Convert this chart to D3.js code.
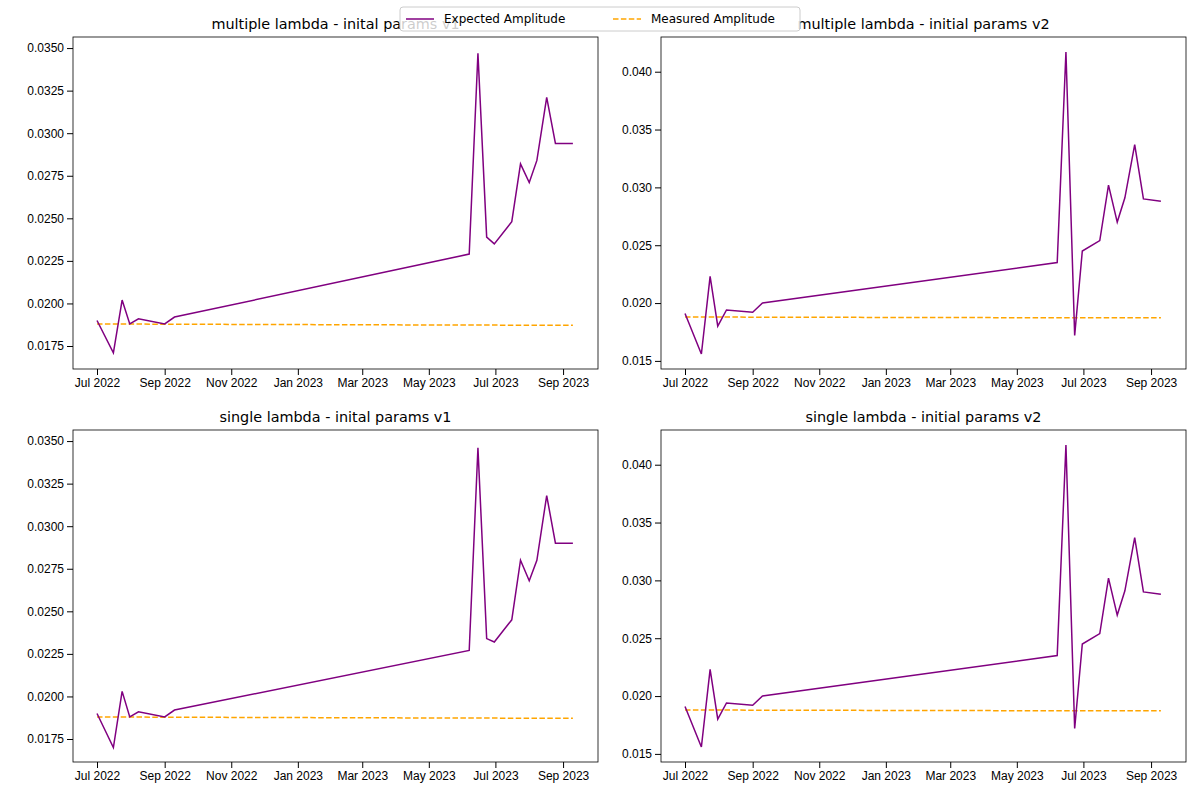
<!DOCTYPE html>
<html><head><meta charset="utf-8">
<script src="https://cdn.jsdelivr.net/npm/d3@7"></script>
<style>body{margin:0;background:#fff}svg{font-family:"DejaVu Sans",sans-serif}</style>
</head><body><svg id="chart" width="1200" height="800"></svg>
<script>
// observation dates
var dates = ["2022-07-01","2022-07-16","2022-07-24","2022-07-31","2022-08-08","2022-09-01","2022-09-10",
  "2023-06-07","2023-06-15","2023-06-23","2023-06-30","2023-07-16","2023-07-24","2023-08-01",
  "2023-08-08","2023-08-17","2023-08-25","2023-09-10"];

var expMultiV1 = [0.0190,0.0171,0.0202,0.0188,0.0191,0.0188,0.0192,0.0229,0.0347,0.0239,0.0235,0.0248,0.0282,0.0271,0.0284,0.0321,0.0294,0.0294];
var expMultiV2 = [0.0191,0.0156,0.0223,0.0180,0.0194,0.0192,0.0200,0.0235,0.0417,0.0172,0.0245,0.0254,0.0302,0.0270,0.0291,0.0337,0.0290,0.0288];
var expSingleV1 = [0.0190,0.0170,0.0203,0.0188,0.0191,0.0188,0.0192,0.0227,0.0346,0.0234,0.0232,0.0245,0.0280,0.0268,0.0280,0.0318,0.0290,0.0290];
var expSingleV2 = expMultiV2;
var measured = [0.01880,0.01879,0.01879,0.01879,0.01879,0.01878,0.01878,0.01873,0.01873,0.01873,0.01873,0.01872,0.01872,0.01872,0.01872,0.01872,0.01872,0.01872];

var titles = ["multiple lambda - inital params v1","multiple lambda - initial params v2",
  "single lambda - inital params v1","single lambda - initial params v2"];
var series = [expMultiV1, expMultiV2, expSingleV1, expSingleV2];
var yDomains = [[0.01615,0.03565],[0.0143,0.0430],[0.01615,0.03565],[0.0143,0.0430]];
var yTicks = [d3.range(0.0175,0.03501,0.0025), d3.range(0.015,0.04001,0.005)];

var parse = d3.timeParse("%Y-%m-%d");
var xs = dates.map(parse);
var svg = d3.select("#chart");
var panels = [{x:73,y:37},{x:661,y:37},{x:73,y:430},{x:661,y:430}];
var pw = 525, ph = 332;

panels.forEach(function(p, i) {
  var g = svg.append("g").attr("transform","translate("+p.x+","+p.y+")");
  var x = d3.scaleTime().domain([parse("2022-06-09"), parse("2023-10-03")]).range([0,pw]);
  var y = d3.scaleLinear().domain(yDomains[i]).range([ph,0]);
  var ticks = d3.range(0,8).map(function(k){ return new Date(2022, 6 + 2*k, 1); });
  var isV1 = i % 2 == 0;

  g.append("g").attr("transform","translate(0,"+ph+")")
    .call(d3.axisBottom(x).tickValues(ticks).tickFormat(d3.timeFormat("%b %Y")).tickSizeOuter(0))
    .call(function(a){ a.select(".domain").remove(); a.selectAll("text").attr("font-size",12).attr("fill","#000"); });
  g.append("g")
    .call(d3.axisLeft(y).tickValues(yTicks[isV1?0:1]).tickFormat(d3.format(isV1?".4f":".3f")).tickSizeOuter(0))
    .call(function(a){ a.select(".domain").remove(); a.selectAll("text").attr("font-size",12).attr("fill","#000"); });

  var line = d3.line().x(function(d,j){ return x(xs[j]); }).y(function(d){ return y(d); });
  g.append("path").datum(measured).attr("d",line).attr("fill","none")
    .attr("stroke","orange").attr("stroke-width",1.5).attr("stroke-dasharray","5.5,2.4");
  g.append("path").datum(series[i]).attr("d",line).attr("fill","none")
    .attr("stroke","purple").attr("stroke-width",1.5);
  g.append("rect").attr("width",pw).attr("height",ph).attr("fill","none").attr("stroke","#000").attr("stroke-width",0.8);
  g.append("text").attr("x",pw/2).attr("y",-8).attr("text-anchor","middle").attr("font-size",14.4).text(titles[i]);
});

// legend
var lg = svg.append("g").attr("transform","translate(400,7)");
lg.append("rect").attr("width",400).attr("height",24).attr("rx",3).attr("fill","rgba(255,255,255,0.8)").attr("stroke","#ccc");
lg.append("line").attr("x1",6).attr("x2",34).attr("y1",12).attr("y2",12).attr("stroke","purple").attr("stroke-width",1.5);
lg.append("text").attr("x",44).attr("y",16).attr("font-size",12).text("Expected Amplitude");
lg.append("line").attr("x1",213).attr("x2",241).attr("y1",12).attr("y2",12).attr("stroke","orange").attr("stroke-width",1.5).attr("stroke-dasharray","5.5,2.4");
lg.append("text").attr("x",251).attr("y",16).attr("font-size",12).text("Measured Amplitude");
</script></body></html>
